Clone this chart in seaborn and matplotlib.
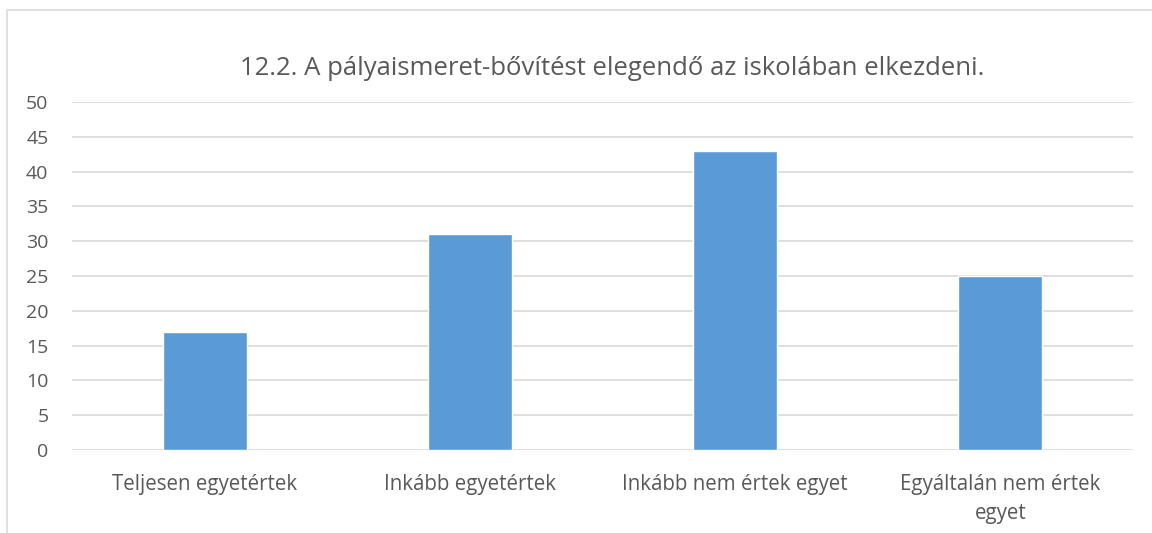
import matplotlib
matplotlib.use("Agg")
import matplotlib.pyplot as plt
import seaborn as sns
import pandas as pd
from matplotlib.patches import Rectangle

# Data
categories = ["Teljesen egyetértek", "Inkább egyetértek",
              "Inkább nem értek egyet", "Egyáltalán nem értek\negyet"]
values = [17, 31, 43, 25]
y_ticks = [0, 5, 10, 15, 20, 25, 30, 35, 40, 45, 50]
title = "12.2. A pályaismeret-bővítést elegendő az iskolában elkezdeni."

df = pd.DataFrame({"kategoria": categories, "ertek": values})

sns.set_theme(style="white")
plt.rcParams["font.family"] = ["Open Sans", "DejaVu Sans"]

text_col = "#595959"
grid_col = "#D9D9D9"
bar_col = "#5B9BD5"

fig = plt.figure(figsize=(11.52, 5.33), dpi=100)
ax = fig.add_axes([0.0625, 0.1557, 0.9210, 0.6529])

sns.barplot(data=df, x="kategoria", y="ertek", color=bar_col,
            width=0.317, saturation=1, ax=ax, zorder=3)

ax.set_ylim(0, 50)
ax.set_yticks(y_ticks)
ax.set_xlim(-0.5, len(categories) - 0.5)
ax.yaxis.grid(True, color=grid_col, linewidth=1.2, zorder=0)
ax.set_axisbelow(True)
for s in ax.spines.values():
    s.set_visible(False)
ax.set_xlabel("")
ax.set_ylabel("")
ax.tick_params(axis="y", length=0, labelsize=14, colors=text_col, pad=17)
ax.tick_params(axis="x", length=0, labelsize=14.8, colors=text_col, pad=17)
for lbl in ax.get_xticklabels():
    lbl.set_linespacing(1.55)

fig.text(0.531, 0.872, title, ha="center", va="center",
         fontsize=18.5, color=text_col)

# chart frame (cropped on right and bottom in the reference)
fig.patches.append(Rectangle((7 / 1152, -0.05), 1.2, 1 - 10 / 533 + 0.05,
                             transform=fig.transFigure, fill=False,
                             edgecolor=grid_col, linewidth=1.2))

fig.savefig("out.png", dpi=100)
